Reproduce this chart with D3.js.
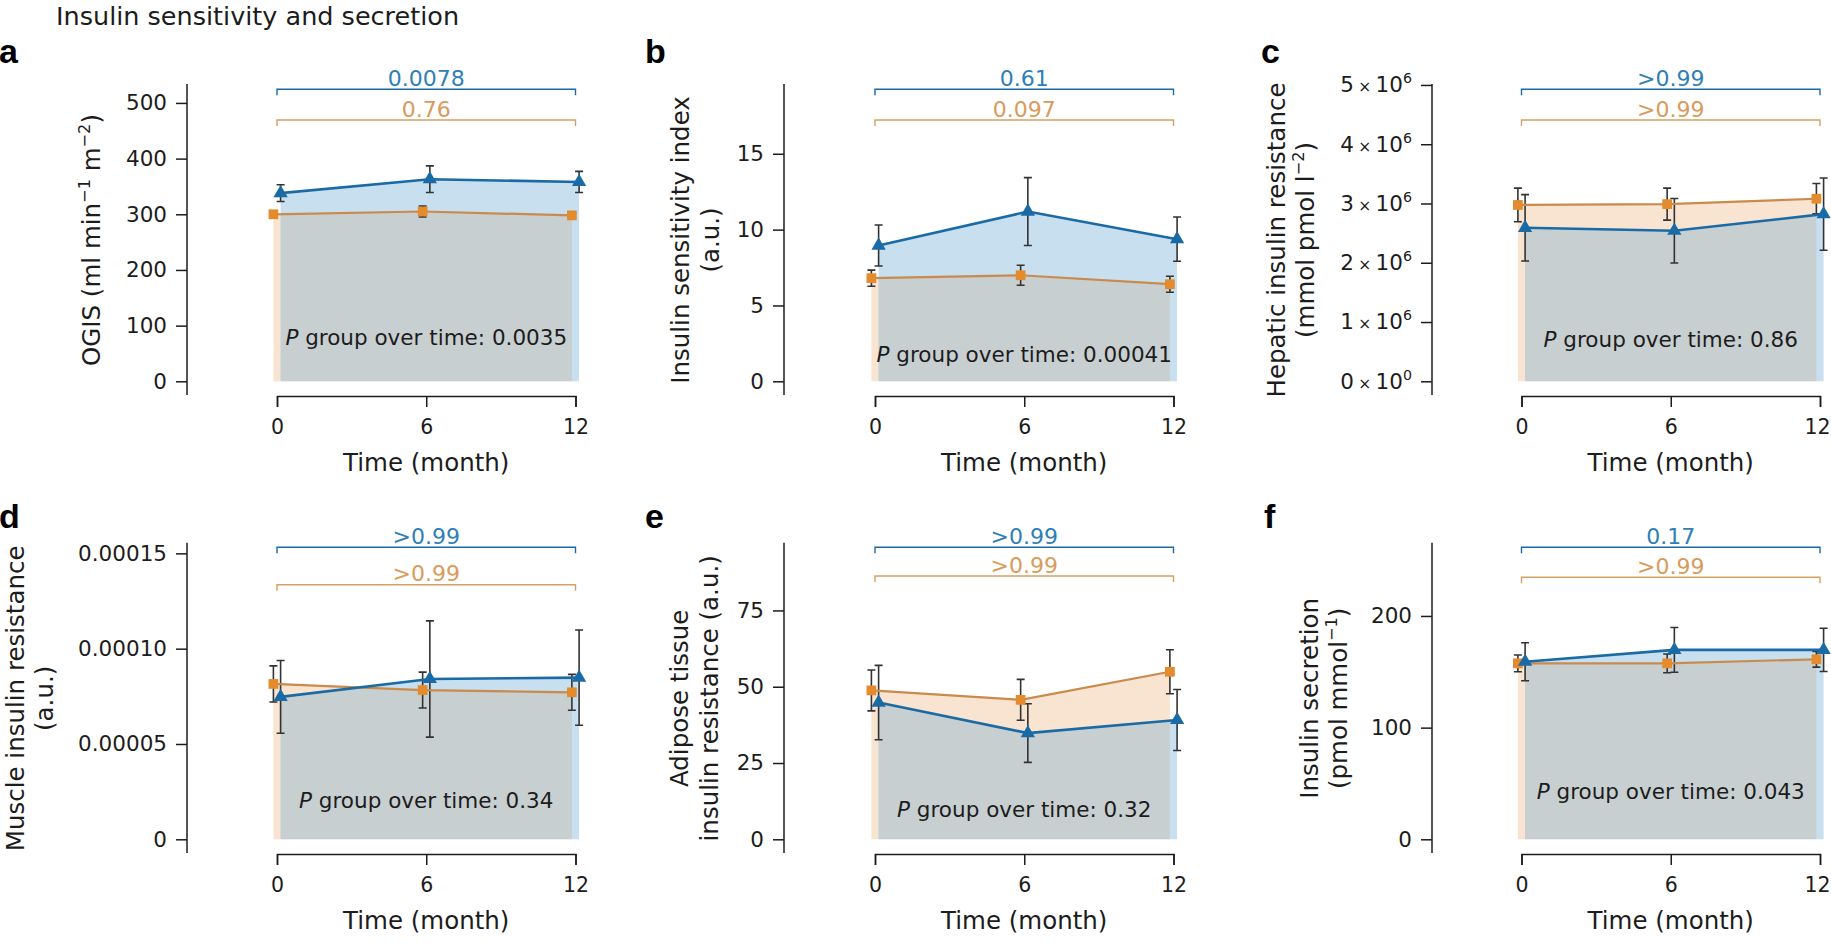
<!DOCTYPE html>
<html>
<head>
<meta charset="utf-8">
<script src="https://cdn.jsdelivr.net/npm/d3@7"></script>
<style>
  body { margin: 0; background: #fff; }
  svg { display: block; font-family: "DejaVu Sans", Verdana, sans-serif; }
</style>
</head>
<body>
<script>
const W = 1831, H = 949;

// time points
const months = [0, 6, 12];

// a  OGIS
const ogisBlue = [338, 363, 358];
const ogisBlueErr = [15, 24, 19];
const ogisOrange = [300, 305, 298];
const ogisOrangeErr = [5, 10, 5];

// b  insulin sensitivity index
const isiBlue = [8.95, 11.19, 9.37];
const isiBlueErr = [1.35, 2.24, 1.46];
const isiOrange = [6.8, 6.99, 6.4];
const isiOrangeErr = [0.53, 0.66, 0.53];

// c  hepatic insulin resistance
const hepBlue = [2.59e6, 2.54e6, 2.82e6];
const hepBlueErr = [0.56e6, 0.545e6, 0.61e6];
const hepOrange = [2.975e6, 2.99e6, 3.08e6];
const hepOrangeErr = [0.284e6, 0.27e6, 0.256e6];

// d  muscle insulin resistance
const musBlue = [7.47e-5, 8.41e-5, 8.48e-5];
const musBlueErr = [1.91e-5, 3.05e-5, 2.5e-5];
const musOrange = [8.15e-5, 7.83e-5, 7.71e-5];
const musOrangeErr = [0.95e-5, 0.94e-5, 0.94e-5];

// e  adipose tissue insulin resistance
const adiBlue = [44.8, 34.8, 39.1];
const adiBlueErr = [12.2, 9.6, 10];
const adiOrange = [48.8, 45.7, 54.9];
const adiOrangeErr = [6.7, 6.7, 7.2];

// f  insulin secretion
const secBlue = [159, 169.6, 169.6];
const secBlueErr = [17, 20, 19.4];
const secOrange = [157.6, 157.6, 161.2];
const secOrangeErr = [7.5, 8.4, 7];

// y tick values
const ogisTicks = [0, 100, 200, 300, 400, 500];
const isiTicks = [0, 5, 10, 15];
const hepTicks = [0, 1e6, 2e6, 3e6, 4e6, 5e6];
const musTicks = [0, 5e-5, 10e-5, 15e-5];
const adiTicks = [0, 25, 50, 75];
const secTicks = [0, 100, 200];

// p values
const pBlue = ["0.0078", "0.61", ">0.99", ">0.99", ">0.99", "0.17"];
const pOrange = ["0.76", "0.097", ">0.99", ">0.99", ">0.99", ">0.99"];
const pGroupTime = ["0.0035", "0.00041", "0.86", "0.34", "0.32", "0.043"];

const C = {
  blueLine: "#1a6aa6", blueFill: "#c8dff0", blueText: "#2f7fb6",
  orangeLine: "#c98a4c", orangeMark: "#e48b2d", orangeFill: "#f8e4d1", orangeText: "#d99b5c",
  overlap: "#c8cfd1", ink: "#1c1c1c", err: "#333"
};

// layout
const colAxis = [187, 784, 1432];
const colX0 = [277, 875, 1521.5];
const plotW = 298.5;
const rowY0 = [381.3, 839.3];
const rowTop = [84, 542.7];
const dodge = 3.6;

const panels = [
  {id: "a", col: 0, row: 0, top: 534, ticks: ogisTicks, fmt: d => String(d),
   blue: ogisBlue, blueErr: ogisBlueErr, orange: ogisOrange, orangeErr: ogisOrangeErr,
   title: ["OGIS (ml min^{−1} m^{−2})"], titleX: [100], letterX: -1,
   bY: 89.3, oY: 120, pY: 344.5},
  {id: "b", col: 1, row: 0, top: 19.6, ticks: isiTicks, fmt: d => String(d),
   blue: isiBlue, blueErr: isiBlueErr, orange: isiOrange, orangeErr: isiOrangeErr,
   title: ["Insulin sensitivity index", "(a.u.)"], titleX: [689, 719], letterX: 645,
   bY: 89.3, oY: 120, pY: 361.7},
  {id: "c", col: 2, row: 0, top: 5.016e6, ticks: hepTicks,
   fmt: d => d === 0 ? "0\u2009~{×}\u200910^{0}" : (d / 1e6) + "\u2009~{×}\u200910^{6}",
   blue: hepBlue, blueErr: hepBlueErr, orange: hepOrange, orangeErr: hepOrangeErr,
   title: ["Hepatic insulin resistance", "(mmol pmol l^{−2})"], titleX: [1285, 1314], letterX: 1261,
   bY: 89.3, oY: 120, pY: 347.3},
  {id: "d", col: 0, row: 1, top: 15.56e-5, ticks: musTicks, fmt: d => d === 0 ? "0" : d.toFixed(5),
   blue: musBlue, blueErr: musBlueErr, orange: musOrange, orangeErr: musOrangeErr,
   title: ["Muscle insulin resistance", "(a.u.)"], titleX: [24, 53], letterX: -1,
   bY: 547.3, oY: 584.7, pY: 808.3},
  {id: "e", col: 1, row: 1, top: 97.2, ticks: adiTicks, fmt: d => String(d),
   blue: adiBlue, blueErr: adiBlueErr, orange: adiOrange, orangeErr: adiOrangeErr,
   title: ["Adipose tissue", "insulin resistance (a.u.)"], titleX: [688, 718], letterX: 645,
   bY: 547.3, oY: 576, pY: 816.7},
  {id: "f", col: 2, row: 1, top: 265.6, ticks: secTicks, fmt: d => String(d),
   blue: secBlue, blueErr: secBlueErr, orange: secOrange, orangeErr: secOrangeErr,
   title: ["Insulin secretion", "(pmol mmol^{−1})"], titleX: [1318, 1347], letterX: 1264,
   bY: 547.3, oY: 577.3, pY: 799.3}
];

const svg = d3.select("body").append("svg").attr("width", W).attr("height", H);
const defs = svg.append("defs");

// text with ^{...} superscripts and ~{...} small inline parts
function richText(sel, str, size) {
  const parts = str.split(/([\^~]\{[^}]*\})/).filter(s => s.length);
  let up = false;
  parts.forEach(p => {
    const sup = p.startsWith("^{");
    const small = p.startsWith("~{");
    const t = sel.append("tspan").text(sup || small ? p.slice(2, -1) : p);
    if (sup) {
      t.attr("font-size", size * 0.66).attr("dy", -size * 0.42);
      up = true;
    } else {
      if (small) t.attr("font-size", size * 0.72);
      if (up) { t.attr("dy", size * 0.42); up = false; }
    }
  });
}

svg.append("text")
  .attr("x", 56).attr("y", 25)
  .attr("font-size", 25.5).attr("fill", C.ink)
  .text("Insulin sensitivity and secretion");

panels.forEach((p, i) => {
  const x0 = colX0[p.col];
  const y0 = rowY0[p.row];
  const yTop = rowTop[p.row];
  const axisY = y0 + 14.7;

  const x = d3.scaleLinear().domain([0, 12]).range([x0, x0 + plotW]);
  const y = d3.scaleLinear().domain([0, p.top]).range([y0, yTop]);

  const g = svg.append("g");

  const blue = months.map((m, k) => ({m, v: p.blue[k], e: p.blueErr[k]}));
  const orange = months.map((m, k) => ({m, v: p.orange[k], e: p.orangeErr[k]}));

  const areaO = d3.area().x(d => x(d.m) - dodge).y0(y(0)).y1(d => y(d.v));
  const areaB = d3.area().x(d => x(d.m) + dodge).y0(y(0)).y1(d => y(d.v));

  defs.append("clipPath").attr("id", "clipO" + i)
    .append("path").attr("d", areaO(orange));

  g.append("path").attr("d", areaO(orange)).attr("fill", C.orangeFill);
  g.append("path").attr("d", areaB(blue)).attr("fill", C.blueFill);
  g.append("path").attr("d", areaB(blue)).attr("fill", C.overlap)
    .attr("clip-path", "url(#clipO" + i + ")");

  // p group over time
  const pt = g.append("text")
    .attr("x", x(6)).attr("y", p.pY)
    .attr("text-anchor", "middle")
    .attr("font-size", 21.5).attr("fill", C.ink);
  pt.append("tspan").attr("font-style", "italic").text("P");
  pt.append("tspan").text(" group over time: " + pGroupTime[i]);

  // error bars
  const bars = [
    ...orange.map(d => ({...d, dx: -dodge})),
    ...blue.map(d => ({...d, dx: dodge}))
  ];
  const eb = g.append("g").attr("stroke", C.err).attr("stroke-width", 1.6).attr("fill", "none");
  bars.forEach(d => {
    const cx = x(d.m) + d.dx;
    const yl = y(d.v - d.e), yh = y(d.v + d.e);
    eb.append("path").attr("d", `M${cx},${yl}V${yh}M${cx - 4},${yl}H${cx + 4}M${cx - 4},${yh}H${cx + 4}`);
  });

  // lines
  g.append("path")
    .attr("d", d3.line().x(d => x(d.m) - dodge).y(d => y(d.v))(orange))
    .attr("fill", "none").attr("stroke", C.orangeLine).attr("stroke-width", 2.2);
  g.append("path")
    .attr("d", d3.line().x(d => x(d.m) + dodge).y(d => y(d.v))(blue))
    .attr("fill", "none").attr("stroke", C.blueLine).attr("stroke-width", 2.6);

  // markers
  g.selectAll(".sq").data(orange).enter().append("path")
    .attr("d", d3.symbol(d3.symbolSquare, 95))
    .attr("transform", d => `translate(${x(d.m) - dodge},${y(d.v)})`)
    .attr("fill", C.orangeMark);
  g.selectAll(".tri").data(blue).enter().append("path")
    .attr("d", d3.symbol(d3.symbolTriangle, 88))
    .attr("transform", d => `translate(${x(d.m) + dodge},${y(d.v)})`)
    .attr("fill", C.blueLine);

  // comparison brackets
  [[p.bY, pBlue[i], C.blueLine, C.blueText], [p.oY, pOrange[i], "#d6a062", C.orangeText]].forEach(([by, lab, lc, tc]) => {
    g.append("path")
      .attr("d", `M${x(0)},${by + 6}V${by}H${x(12)}V${by + 6}`)
      .attr("fill", "none").attr("stroke", lc).attr("stroke-width", 1.4);
    g.append("text")
      .attr("x", x(6)).attr("y", by - 3.5)
      .attr("text-anchor", "middle")
      .attr("font-size", 22).attr("fill", tc)
      .text(lab);
  });

  // axes
  const yAxis = svg.append("g")
    .attr("transform", `translate(${colAxis[p.col]},0)`)
    .call(d3.axisLeft(y).tickValues(p.ticks).tickSize(11).tickPadding(9).tickSizeOuter(0).tickFormat(p.fmt));
  yAxis.select(".domain").attr("d", `M0,${yTop}V${axisY - 1}`);
  yAxis.selectAll("path, line").attr("stroke", C.ink).attr("stroke-width", 1.5);
  yAxis.selectAll(".tick text").each(function (d) {
    const s = p.fmt(d);
    const t = d3.select(this).text(null).attr("fill", C.ink);
    richText(t, s, 21.5);
  });
  yAxis.attr("font-size", 21.5).attr("font-family", null);

  const xAxis = svg.append("g")
    .attr("transform", `translate(0,${axisY})`)
    .call(d3.axisBottom(x).tickValues(months).tickSize(11).tickSizeOuter(11).tickPadding(12));
  xAxis.selectAll("path, line").attr("stroke", C.ink).attr("stroke-width", 1.5);
  xAxis.selectAll(".tick text").attr("fill", C.ink);
  // keep the last label inside the page at the right edge
  xAxis.selectAll(".tick text").filter(d => d === 12 && x(12) > W - 16).attr("dx", -3);
  xAxis.attr("font-size", 20.5).attr("font-family", null);

  svg.append("text")
    .attr("x", x(6)).attr("y", axisY + 75)
    .attr("text-anchor", "middle")
    .attr("font-size", 24.5).attr("fill", C.ink)
    .text("Time (month)");

  // y title
  const cy = (yTop + axisY) / 2;
  p.title.forEach((line, k) => {
    const t = svg.append("text")
      .attr("transform", `translate(${p.titleX[k]},${cy}) rotate(-90)`)
      .attr("text-anchor", "middle")
      .attr("font-size", 24.5).attr("fill", C.ink);
    richText(t, line, 24.5);
  });

  // panel letter
  svg.append("text")
    .attr("x", p.letterX).attr("y", p.row === 0 ? 63 : 528)
    .attr("font-family", "'Liberation Sans', Arial, sans-serif")
    .attr("font-weight", "bold").attr("font-size", 34)
    .attr("fill", "#000")
    .text(p.id);
});
</script>
</body>
</html>
